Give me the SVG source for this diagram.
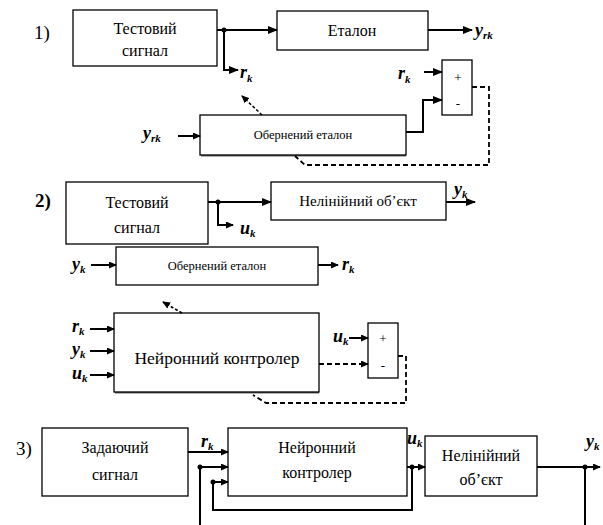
<svg xmlns="http://www.w3.org/2000/svg" width="603" height="525" viewBox="0 0 603 525" font-family="Liberation Serif, Times New Roman, serif">
<defs>
<marker id="ah" markerUnits="userSpaceOnUse" markerWidth="10" markerHeight="8" refX="9" refY="4" orient="auto">
<path d="M0,0 L10,4 L0,8 Z" fill="#000"/>
</marker>
<marker id="ahs" markerUnits="userSpaceOnUse" markerWidth="8" markerHeight="7" refX="7" refY="3.5" orient="auto">
<path d="M0,0 L8,3.5 L0,7 Z" fill="#000"/>
</marker>
</defs>
<style>
.box{fill:#fff;stroke:#000;stroke-width:1.3}
.sh{stroke:#666;stroke-width:3}
.t{text-anchor:middle}
.n{font-size:19px}
.v{font-style:italic;font-weight:bold;font-size:18px}
.w{fill:none;stroke:#000;stroke-width:2}
.d{fill:none;stroke:#000;stroke-width:1.8;stroke-dasharray:5,3}
.ds{fill:none;stroke:#000;stroke-width:1.5;stroke-dasharray:3,2}
</style>

<!-- Section labels -->
<text class="n" x="34" y="39">1)</text>
<text class="n" x="35" y="207" font-weight="bold">2)</text>
<text class="n" x="16" y="455">3)</text>

<!-- Section 1 -->
<g id="s1-test">
<rect class="box" x="73" y="10" width="144" height="56"/>
<text class="t" x="145" y="34" font-size="16">Тестовий</text>
<text class="t" x="145" y="56" font-size="16">сигнал</text>
</g>
<g id="s1-etalon">
<rect class="box" x="277" y="11" width="151" height="39"/>
<text class="t" x="352" y="36" font-size="16">Еталон</text>
</g>
<g id="s1-inverse">
<line class="sh" x1="201" y1="155" x2="406" y2="155"/>
<rect class="box" x="200" y="115" width="206" height="40"/>
<text class="t" x="303" y="139" font-size="12.5">Обернений еталон</text>
</g>
<g id="s1-sum">
<rect class="box" x="442" y="60" width="30" height="55"/>
<text class="t" x="458" y="82" font-size="13">+</text>
<text class="t" x="458" y="108" font-size="13">-</text>
</g>
<g id="s1-labels">
<text class="v" x="475" y="36">y<tspan font-size="11" dy="3">rk</tspan></text>
<text class="v" x="240" y="78">r<tspan font-size="11" dy="4">k</tspan></text>
<text class="v" x="398" y="79">r<tspan font-size="11" dy="4">k</tspan></text>
<text class="v" x="143" y="139">y<tspan font-size="11" dy="3">rk</tspan></text>
</g>

<!-- Section 2 -->
<g id="s2-test">
<rect class="box" x="66" y="182" width="142" height="62"/>
<text class="t" x="137" y="208" font-size="16">Тестовий</text>
<text class="t" x="137" y="233" font-size="16">сигнал</text>
</g>
<g id="s2-plant">
<rect class="box" x="271" y="182" width="175" height="38"/>
<text class="t" x="358" y="206" font-size="15">Нелінійний об’єкт</text>
</g>
<g id="s2-inverse">
<rect class="box" x="116" y="247" width="202" height="38"/>
<text class="t" x="217" y="270" font-size="12.5">Обернений еталон</text>
</g>
<g id="s2-controller">
<line class="sh" x1="115" y1="392" x2="319" y2="392"/>
<rect class="box" x="114" y="313" width="205" height="79"/>
<text class="t" x="217" y="364" font-size="17.5">Нейронний контролер</text>
</g>
<g id="s2-sum">
<rect class="box" x="368" y="323" width="30" height="55"/>
<text class="t" x="383" y="343" font-size="13">+</text>
<text class="t" x="383" y="370" font-size="13">-</text>
</g>
<g id="s2-labels">
<text class="v" x="240" y="234">u<tspan font-size="11" dy="3">k</tspan></text>
<text class="v" x="454" y="195">y<tspan font-size="11" dy="3">k</tspan></text>
<text class="v" x="72" y="270">y<tspan font-size="11" dy="3">k</tspan></text>
<text class="v" x="342" y="270">r<tspan font-size="11" dy="3">k</tspan></text>
<text class="v" x="72" y="332">r<tspan font-size="11" dy="3">k</tspan></text>
<text class="v" x="72" y="355">y<tspan font-size="11" dy="3">k</tspan></text>
<text class="v" x="72" y="379">u<tspan font-size="11" dy="3">k</tspan></text>
<text class="v" x="333" y="342">u<tspan font-size="11" dy="3">k</tspan></text>
</g>

<!-- Section 3 -->
<g id="s3-ref">
<rect class="box" x="42" y="428" width="146" height="68"/>
<text class="t" x="115" y="453" font-size="16">Задаючий</text>
<text class="t" x="115" y="480" font-size="16">сигнал</text>
</g>
<g id="s3-controller">
<rect class="box" x="228" y="428" width="179" height="68"/>
<text class="t" x="317" y="453" font-size="16">Нейронний</text>
<text class="t" x="317" y="478" font-size="16">контролер</text>
</g>
<g id="s3-plant">
<rect class="box" x="425" y="436" width="112" height="60"/>
<text class="t" x="481" y="461" font-size="16">Нелінійний</text>
<text class="t" x="481" y="485" font-size="16">об’єкт</text>
</g>
<g id="s3-labels">
<text class="v" x="201" y="447">r<tspan font-size="11" dy="3">k</tspan></text>
<text class="v" x="407" y="444">u<tspan font-size="11" dy="3">k</tspan></text>
<text class="v" x="586" y="447">y<tspan font-size="11" dy="3">k</tspan></text>
</g>

<!-- Connectors -->
<g id="connectors">
<path class="w" d="M217,30 H277" marker-end="url(#ah)"/>
<circle cx="224" cy="30" r="2.5" fill="#000"/>
<path class="w" d="M224,30 V70 H238" marker-end="url(#ah)"/>
<path class="w" d="M428,30 H472" marker-end="url(#ah)"/>
<path class="w" d="M424,72 H442" marker-end="url(#ah)"/>
<path class="w" d="M406,132 H423 V100 H442" marker-end="url(#ah)"/>
<path class="w" d="M178,136 H200" marker-end="url(#ahs)"/>
<path class="ds" d="M262,115 L242,96" marker-end="url(#ahs)"/>
<path class="d" d="M472,87 H489 V165 H305 L295,156"/>
<path class="w" d="M208,202 H271" marker-end="url(#ah)"/>
<circle cx="218" cy="202" r="2.5" fill="#000"/>
<path class="w" d="M218,202 V225 H233" marker-end="url(#ahs)"/>
<path class="w" d="M446,202 H475" marker-end="url(#ah)"/>
<path class="w" d="M91,265 H116" marker-end="url(#ahs)"/>
<path class="w" d="M318,265 H338" marker-end="url(#ahs)"/>
<path class="w" d="M90,329 H114" marker-end="url(#ahs)"/>
<path class="w" d="M90,351 H114" marker-end="url(#ahs)"/>
<path class="w" d="M90,375 H114" marker-end="url(#ahs)"/>
<path class="ds" d="M182,313 L163,302" marker-end="url(#ahs)"/>
<path class="w" d="M349,338 H368" marker-end="url(#ahs)"/>
<path class="d" d="M319,364 H368" marker-end="url(#ahs)"/>
<path class="d" d="M398,356 H406 V403 H266 L253,395"/>
<path class="w" d="M188,452 H228" marker-end="url(#ahs)"/>
<circle cx="200" cy="467" r="2.5" fill="#000"/>
<path class="w" d="M200,467 H228" marker-end="url(#ahs)"/>
<path class="w" d="M200,467 V525"/>
<circle cx="213" cy="482" r="2.5" fill="#000"/>
<path class="w" d="M213,482 H228" marker-end="url(#ahs)"/>
<path class="w" d="M213,482 V510 H412 V467"/>
<path class="w" d="M407,467 H425" marker-end="url(#ahs)"/>
<circle cx="412" cy="467" r="2.5" fill="#000"/>
<path class="w" d="M537,467 H600" marker-end="url(#ahs)"/>
<circle cx="585" cy="467" r="2.5" fill="#000"/>
<path class="w" d="M585,467 V525"/>
</g>
</svg>
